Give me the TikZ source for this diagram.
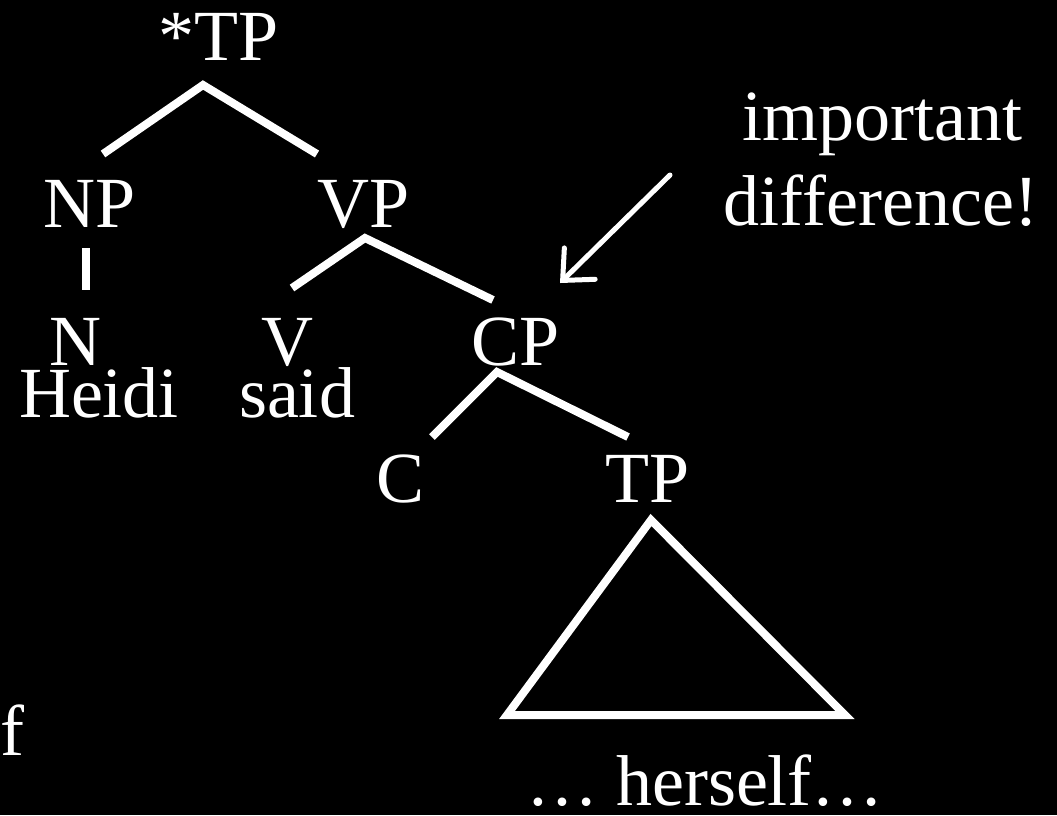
\documentclass[tikz,border=0pt]{standalone}
\usepackage{fontspec}
\setmainfont{Liberation Serif}
\usetikzlibrary{arrows.meta}

\begin{document}
\begin{tikzpicture}[x=1pt, y=-1pt,
  lbl/.style={text=white, anchor=base, inner sep=0pt,
    font=\fontsize{72}{80}\selectfont},
  branch/.style={draw=white, line width=8pt},
  pointer/.style={draw=white, line width=5pt, line cap=round,
    -{Straight Barb[length=24pt, width=44pt, line cap=round]}}]
  % Background
  \fill[black] (0,0) rectangle (1057,815);
  \useasboundingbox (0,0) rectangle (1057,815);

  % Labels
  \node[lbl] (tp) at (219,60) {*TP};
  \node[lbl] (np) at (90,227) {NP};
  \node[lbl] (vp) at (364,227) {VP};
  \node[lbl] (n) at (75,365) {N};
  \node[lbl] (heidi) at (99,417) {Heidi};
  \node[lbl] (v) at (287,365) {V};
  \node[lbl] (said) at (297,417) {said};
  \node[lbl] (cp) at (516,365) {CP};
  \node[lbl] (c) at (401,502) {C};
  \node[lbl] (tp2) at (648,502) {TP};
  \node[lbl] (herself) at (705,805) {\ldots{} herself\ldots};
  \node[lbl, anchor=base west] (frag) at (0,755) {f};
  \node[lbl] (imp) at (882,140) {important};
  \node[lbl] (diff) at (881,225) {difference!};

  % Branch points
  \coordinate (tpv) at (203,85);
  \coordinate (tpl) at (103,154);
  \coordinate (tpr) at (317,154);
  \coordinate (npt) at (86,248);
  \coordinate (npb) at (86,290);
  \coordinate (vpv) at (365,238);
  \coordinate (vpl) at (292,288);
  \coordinate (vpr) at (493,300);
  \coordinate (cpv) at (497,372);
  \coordinate (cpl) at (432,437);
  \coordinate (cpr) at (628,437);
  \coordinate (tri) at (651,520);
  \coordinate (tril) at (507,715);
  \coordinate (trir) at (845,715);
  \coordinate (arrs) at (670,175);
  \coordinate (arre) at (560,283);

  % Branches
  \draw[branch] (tpl) -- (tpv) -- (tpr);
  \draw[branch] (npt) -- (npb);
  \draw[branch] (vpl) -- (vpv) -- (vpr);
  \draw[branch] (cpl) -- (cpv) -- (cpr);
  \draw[branch] (tri) -- (tril) -- (trir) -- cycle;

  % Arrow
  \draw[pointer] (arrs) -- (arre);
\end{tikzpicture}
\end{document}
